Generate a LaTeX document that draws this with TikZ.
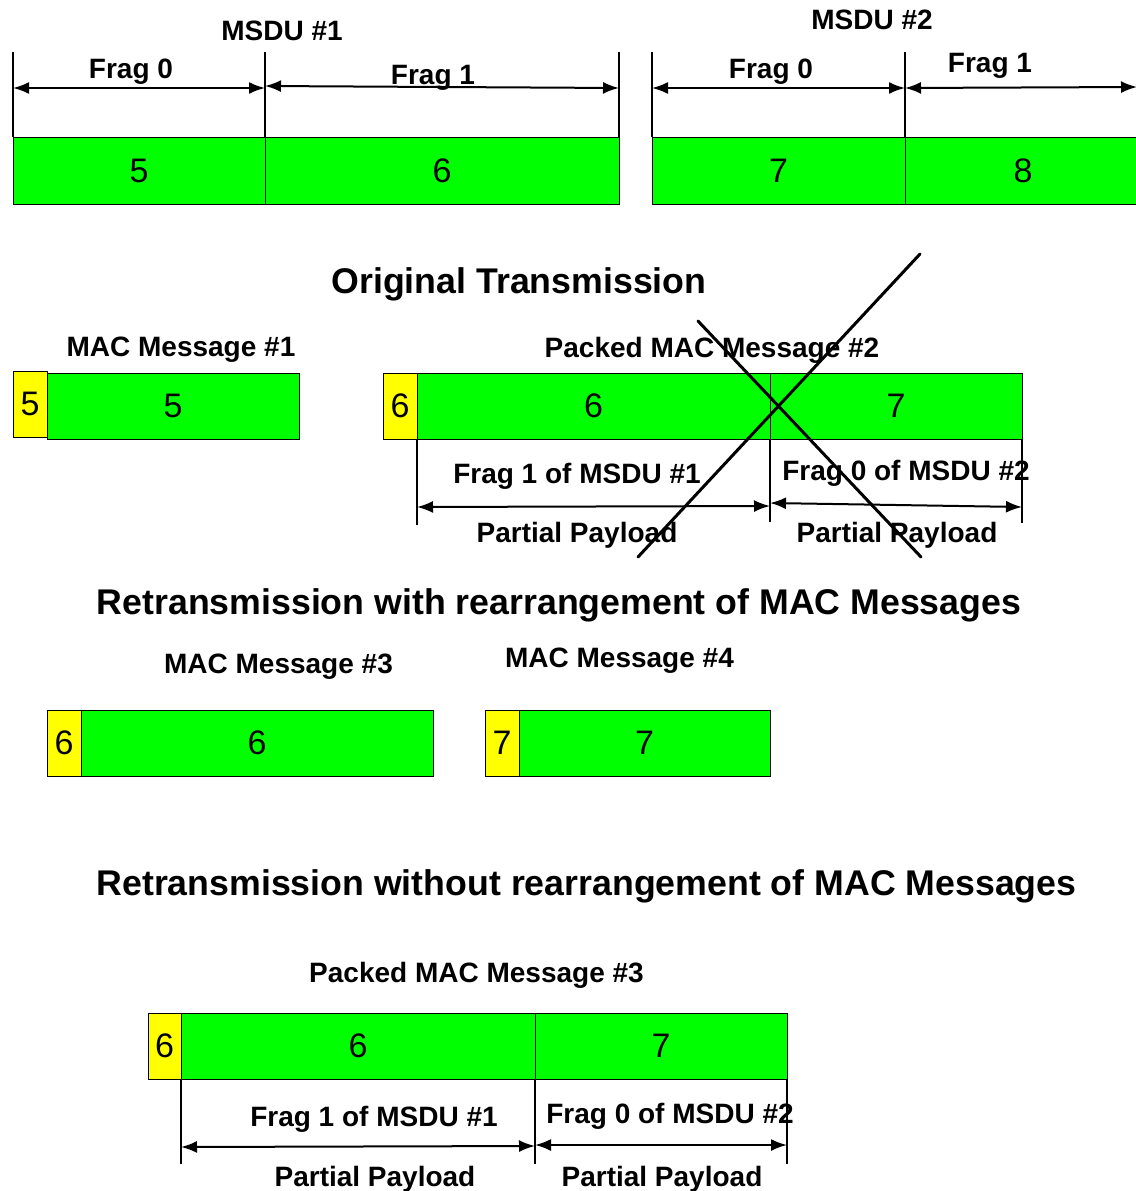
\documentclass[tikz,border=0pt]{standalone}
\usepackage{fontspec}
\setmainfont{Liberation Sans}
\usetikzlibrary{arrows.meta}
\definecolor{pdugreen}{RGB}{0,255,0}
\definecolor{hdryellow}{RGB}{255,255,0}
\tikzset{
	payload/.style={draw=black, line width=1pt, fill=pdugreen, inner sep=0pt, outer sep=0pt, minimum height=66pt, font=\fontsize{34}{36}\selectfont},
	header/.style={payload, fill=hdryellow},
	lbl/.style={inner sep=0.75pt, font=\fontsize{28}{30}\selectfont\bfseries},
	ttl/.style={inner sep=0.75pt, font=\fontsize{35.7}{38}\selectfont\bfseries},
	tick/.style={line width=1.5pt},
	span/.style={line width=2pt, {Latex[length=16pt,width=12pt]}-{Latex[length=16pt,width=12pt]}},
	xout/.style={line width=3pt, line cap=round}
}
\begin{document}
\begin{tikzpicture}[x=1pt,y=1pt,yscale=-1,xscale=1]
	\useasboundingbox (0,0) rectangle (1135,1191);

	% MSDU #1 and MSDU #2
	\node[payload, minimum width=252pt, minimum height=67pt] (m1f0) at (139,170.5) {5};
	\node[payload, minimum width=354pt, minimum height=67pt] (m1f1) at (442,170.5) {6};
	\node[payload, minimum width=253pt, minimum height=67pt] (m2f0) at (778.5,170.5) {7};
	\node[payload, minimum width=236pt, minimum height=67pt] (m2f1) at (1023,170.5) {8};
	% Ticks
	\draw[tick] (m1f0.north west) -- (13,52);
	\draw[tick] (m1f1.north west) -- (265,52);
	\draw[tick] (m1f1.north east) -- (619,52);
	\draw[tick] (m2f0.north west) -- (652,52);
	\draw[tick] (m2f1.north west) -- (905,52);
	% Connection
	\coordinate (m1a) at (13,88);
	\coordinate (m1b) at (265,88);
	\coordinate (m1c) at (265,86);
	\coordinate (m1d) at (619,88);
	\coordinate (m2a) at (652,88);
	\coordinate (m2b) at (905,88);
	\coordinate (m2c) at (905,88);
	\coordinate (m2d) at (1137,87);
	\draw[span] (m1a) -- (m1b);
	\draw[span] (m1c) -- (m1d);
	\draw[span] (m2a) -- (m2b);
	\draw[span] (m2c) -- (m2d);
	% Text Node
	\node[lbl] (msdu1) at (282,31) {MSDU \#1};
	\node[lbl] (msdu2) at (872,20) {MSDU \#2};
	\node[lbl] (m1f0l) at (131,72) {Frag 0};
	\node[lbl] (m1f1l) at (433,78) {Frag 1};
	\node[lbl] (m2f0l) at (771,72) {Frag 0};
	\node[lbl] (m2f1l) at (990,66) {Frag 1};

	% Original transmission
	\node[ttl] (orig) at (519,284) {Original Transmission};
	\node[lbl] (mac1l) at (181,350) {MAC Message \#1};
	\node[header, minimum width=34pt] (h1) at (30,404) {5};
	\node[payload, minimum width=252pt] (p1) at (173,406) {5};
	\node[lbl] (mac2l) at (712,350) {Packed MAC Message \#2};
	\node[header, minimum width=34pt] (h2) at (400,406) {6};
	\node[payload, minimum width=353pt] (p2a) at (593.5,406) {6};
	\node[payload, minimum width=252pt] (p2b) at (896,406) {7};
	\draw[tick] (p2a.south west) -- (417,525);
	\draw[tick] (p2b.south west) -- (770,522);
	\draw[tick] (p2b.south east) -- (1022,523);
	\coordinate (p2w) at (417,507);
	\coordinate (p2m) at (770,506);
	\coordinate (p2n) at (770,503);
	\coordinate (p2e) at (1022,507);
	\draw[span] (p2w) -- (p2m);
	\draw[span] (p2n) -- (p2e);
	\node[lbl] (p2al) at (577,476) {Frag 1 of MSDU \#1};
	\node[lbl] (p2bl) at (906,473) {Frag 0 of MSDU \#2};
	\node[lbl] (p2ap) at (577,535) {Partial Payload};
	\node[lbl] (p2bp) at (897,535) {Partial Payload};
	% Lost
	\coordinate (xa) at (920,254);
	\coordinate (xb) at (638,557);
	\coordinate (xc) at (698,321);
	\coordinate (xd) at (921,557);
	\draw[xout] (xa) -- (xb);
	\draw[xout] (xc) -- (xd);

	% Retransmission with rearrangement
	\node[ttl] (rewith) at (559,605) {Retransmission with rearrangement of MAC Messages};
	\node[lbl] (mac3l) at (278.5,667) {MAC Message \#3};
	\node[header, minimum width=34pt] (h3) at (64,743) {6};
	\node[payload, minimum width=352pt] (p3) at (257,743) {6};
	\node[lbl] (mac4l) at (619.5,661) {MAC Message \#4};
	\node[header, minimum width=34pt] (h4) at (502,743) {7};
	\node[payload, minimum width=251pt] (p4) at (644.5,743) {7};

	% Retransmission without rearrangement
	\node[ttl] (rewout) at (586.5,886) {Retransmission without rearrangement of MAC Messages};
	\node[lbl] (mac5l) at (476.5,975) {Packed MAC Message \#3};
	\node[header, minimum width=33pt] (h5) at (164.5,1046) {6};
	\node[payload, minimum width=354pt] (p5a) at (358,1046) {6};
	\node[payload, minimum width=252pt] (p5b) at (661,1046) {7};
	\draw[tick] (p5a.south west) -- (181,1164);
	\draw[tick] (p5b.south west) -- (535,1164);
	\draw[tick] (p5b.south east) -- (787,1164);
	\coordinate (p5w) at (181,1147);
	\coordinate (p5m) at (535,1146);
	\coordinate (p5n) at (535,1145);
	\coordinate (p5e) at (787,1145);
	\draw[span] (p5w) -- (p5m);
	\draw[span] (p5n) -- (p5e);
	\node[lbl] (p5al) at (374,1119) {Frag 1 of MSDU \#1};
	\node[lbl] (p5bl) at (670,1116) {Frag 0 of MSDU \#2};
	\node[lbl] (p5ap) at (375,1179) {Partial Payload};
	\node[lbl] (p5bp) at (662,1179) {Partial Payload};

\end{tikzpicture}
\end{document}
